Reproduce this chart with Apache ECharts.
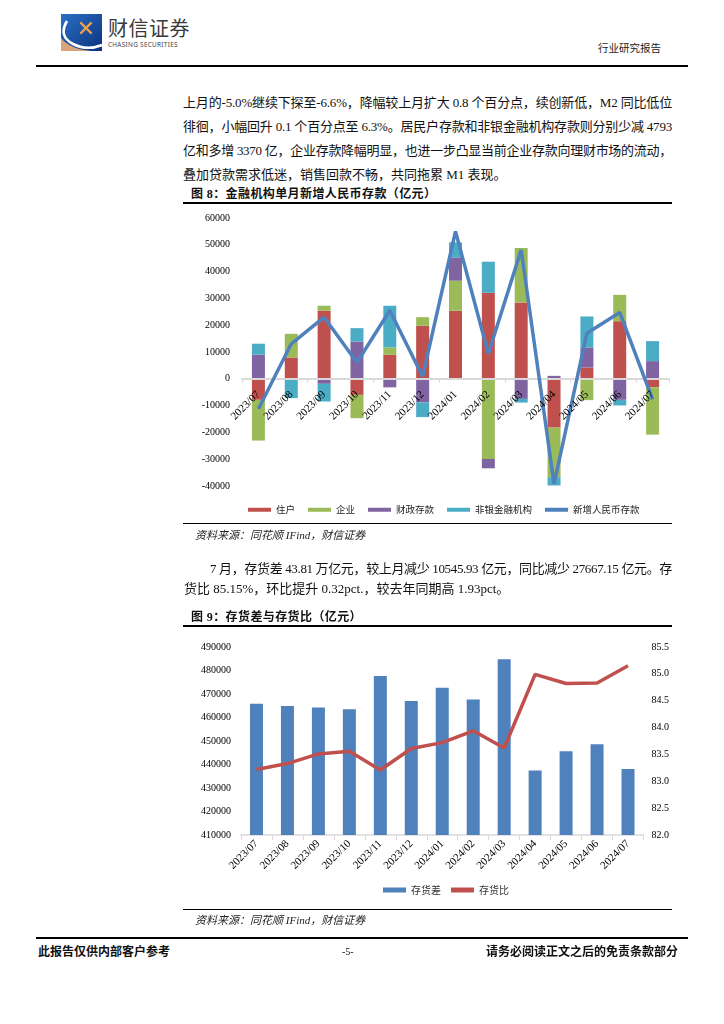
<!DOCTYPE html>
<html>
<head>
<meta charset="utf-8">
<script src="https://cdn.jsdelivr.net/npm/echarts@6/dist/echarts.min.js"></script>
<style>
  html, body { margin:0; padding:0; background:#fff; }
  body { width:724px; height:1024px; position:relative; overflow:hidden;
         font-family:"Liberation Serif","Noto Sans CJK SC",serif; color:#111; }
  .abs { position:absolute; white-space:nowrap; }
  .rule { position:absolute; background:#000; }
  .jline { position:absolute; font-size:13px; line-height:18px; white-space:nowrap; }
  .title { position:absolute; font-size:12px; font-weight:bold; line-height:16px; white-space:nowrap; letter-spacing:0.4px; }
  .src { position:absolute; font-size:11px; font-style:italic; line-height:14px; white-space:nowrap; color:#222; }
</style>
</head>
<body>
<!-- header -->
<svg class="abs" style="left:61px;top:14px" width="41" height="37" viewBox="0 0 41 37">
  <defs>
    <linearGradient id="lg" x1="0" y1="0" x2="1" y2="1">
      <stop offset="0" stop-color="#2d6fc4"/>
      <stop offset="1" stop-color="#0a347f"/>
    </linearGradient>
  </defs>
  <rect width="41" height="37" fill="url(#lg)"/>
  <path d="M0,24 Q9,35 30,37 L0,37 Z" fill="#d9a47a"/>
  <path d="M6,7 Q-3,22 12,30 Q26,37 41,31" stroke="#fff" stroke-width="2.6" fill="none"/>
  <path d="M20,9 L30,19 M30,9 L20,19" stroke="#f2a04a" stroke-width="2.4" stroke-linecap="round"/>
</svg>
<div class="abs" style="left:108px;top:16px;font-family:'Noto Sans CJK SC';font-size:20px;line-height:24px;color:#3a3a3a;letter-spacing:0.5px;">财信证券</div>
<div class="abs" style="left:108px;top:41px;font-family:'Noto Sans';font-size:6.4px;line-height:8px;color:#444;letter-spacing:0.3px;">CHASING SECURITIES</div>
<div class="abs" style="left:598px;top:41px;font-family:'Noto Sans CJK SC';font-size:10.5px;line-height:14px;color:#222;">行业研究报告</div>
<div class="rule" style="left:36px;top:65px;width:652px;height:1.5px;"></div>

<!-- paragraph 1 -->
<div class="jline fit" data-w="489" style="left:183px;top:94px;">上月的-5.0%继续下探至-6.6%，降幅较上月扩大 0.8 个百分点，续创新低，M2 同比低位</div>
<div class="jline fit" data-w="489" style="left:183px;top:118px;">徘徊，小幅回升 0.1 个百分点至 6.3%。居民户存款和非银金融机构存款则分别少减 4793</div>
<div class="jline fit" data-w="489" style="left:183px;top:142px;">亿和多增 3370 亿，企业存款降幅明显，也进一步凸显当前企业存款向理财市场的流动，</div>
<div class="jline" style="left:183px;top:166px;">叠加贷款需求低迷，销售回款不畅，共同拖累 M1 表现。</div>

<div class="title" style="left:191px;top:186px;">图 8：金融机构单月新增人民币存款（亿元）</div>
<div class="rule" style="left:183px;top:202px;width:489px;height:1.5px;"></div>
<div id="c1" style="position:absolute;left:183px;top:204px;width:489px;height:320px;"></div>
<div class="rule" style="left:183px;top:523px;width:489px;height:1.2px;"></div>
<div class="src" style="left:195px;top:528px;">资料来源：同花顺 IFind，财信证券</div>

<!-- paragraph 2 -->
<div class="jline fit" data-w="462" style="left:210px;top:560px;">7 月，存货差 43.81 万亿元，较上月减少 10545.93 亿元，同比减少 27667.15 亿元。存</div>
<div class="jline" style="left:184px;top:580px;">货比 85.15%，环比提升 0.32pct.，较去年同期高 1.93pct。</div>

<div class="title" style="left:191px;top:609px;">图 9：存货差与存货比（亿元）</div>
<div class="rule" style="left:183px;top:625px;width:489px;height:1.5px;"></div>
<div id="c2" style="position:absolute;left:183px;top:627px;width:489px;height:283px;"></div>
<div class="rule" style="left:183px;top:909px;width:489px;height:1.2px;"></div>
<div class="src" style="left:195px;top:913px;">资料来源：同花顺 IFind，财信证券</div>

<!-- footer -->
<div class="rule" style="left:36px;top:937px;width:652px;height:1.5px;"></div>
<div class="abs" style="left:38px;top:944px;font-size:12px;font-weight:bold;line-height:16px;">此报告仅供内部客户参考</div>
<div class="abs" style="left:342px;top:945px;font-size:10px;line-height:14px;">-5-</div>
<div class="abs" style="left:486px;top:944px;font-size:12px;font-weight:bold;line-height:16px;">请务必阅读正文之后的免责条款部分</div>

<script>
// ---------- Chart 1 data: 金融机构单月新增人民币存款（亿元） ----------
var months = ['2023/07','2023/08','2023/09','2023/10','2023/11','2023/12','2024/01','2024/02','2024/03','2024/04','2024/05','2024/06','2024/07'];
var household  = [-7840, 7960, 25400, -6000, 8960, 19800, 25400, 32100, 28500, -18200, 4230, 21500, -3130];
var enterprise = [-15200, 8830, 1870, -8700, 2740, 3200, 11200, -29900, 20300, -18500, -7960, 9830, -17700];
var fiscal     = [9000, 0, -1870, 13900, -3200, -8800, 8700, -3500, -7500, 1100, 7460, -7840, 6600];
var nonbank    = [4100, -7200, -6600, 5000, 15550, -5500, 5600, 11600, -1370, -3100, 11570, -2100, 7460];
var totalNew   = [-11300, 13060, 23000, 6100, 25500, 870, 55000, 9330, 48100, -39200, 17000, 24760, -7700];
var yTicks1 = {min: -40000, max: 60000, interval: 10000};

// ---------- Chart 2 data: 存货差与存货比 ----------
var gap   = [465800, 464900, 464300, 463500, 477700, 467000, 472700, 467700, 484800, 437500, 445600, 448600, 438100];
var ratio = [83.22, 83.33, 83.51, 83.56, 83.21, 83.61, 83.72, 83.94, 83.62, 84.99, 84.82, 84.83, 85.15];
var yTicksL = {min: 410000, max: 490000, interval: 10000};
var yTicksR = {min: 82.0, max: 85.5, interval: 0.5};

// justify lines
document.querySelectorAll('.fit').forEach(function(el){
  var target = +el.getAttribute('data-w');
  var nat = el.getBoundingClientRect().width;
  var n = el.textContent.length;
  var ls = (target - nat) / (n - 1);
  el.style.letterSpacing = ls + 'px';
  var w2 = el.getBoundingClientRect().width;
  el.style.letterSpacing = (ls + (target - w2) / n) + 'px';
});

var serif = 'Liberation Serif';
var cjk = 'Noto Sans CJK SC';
function plain(v) { return String(v); }

var grid1 = { left: 59, right: 3, top: 14, bottom: 38 };
var plotH1 = 320 - grid1.top - grid1.bottom;
var zeroFromBottom = plotH1 * (0 - yTicks1.min) / (yTicks1.max - yTicks1.min);

var c1 = echarts.init(document.getElementById('c1'));
function barS(name, data, color) {
  return { name: name, type: 'bar', stack: 'dep', data: data, barWidth: 13,
           itemStyle: { color: color }, z: 2 };
}
c1.setOption({
  animation: false,
  grid: grid1,
  legend: {
    left: 60, top: 296, itemWidth: 23, itemHeight: 4, itemGap: 13,
    textStyle: { fontFamily: cjk, fontSize: 9.5, color: '#222' },
    data: [
      { name: '住户', icon: 'rect' },
      { name: '企业', icon: 'rect' },
      { name: '财政存款', icon: 'rect' },
      { name: '非银金融机构', icon: 'rect' },
      { name: '新增人民币存款', icon: 'rect' }
    ]
  },
  xAxis: [
    { type: 'category', data: months, z: 5,
      axisLine: { onZero: true, lineStyle: { color: '#d9d9d9', width: 2 } },
      axisTick: { show: true, length: 4, lineStyle: { color: '#d9d9d9' } },
      axisLabel: { show: false } },
    { type: 'category', data: months, position: 'bottom', z: 20,
      axisLine: { show: false, onZero: false }, axisTick: { show: false },
      axisLabel: { rotate: 45, interval: 0, margin: 14 - zeroFromBottom,
                   fontFamily: serif, fontSize: 11, color: '#000' } }
  ],
  yAxis: {
    type: 'value', min: yTicks1.min, max: yTicks1.max, interval: yTicks1.interval,
    axisLine: { show: false }, axisTick: { show: false }, splitLine: { show: false },
    axisLabel: { margin: 12, fontFamily: serif, fontSize: 10, color: '#000', formatter: plain }
  },
  series: [
    barS('住户', household, '#C0504D'),
    barS('企业', enterprise, '#9BBB59'),
    barS('财政存款', fiscal, '#8064A2'),
    barS('非银金融机构', nonbank, '#4BACC6'),
    { name: '新增人民币存款', type: 'line', data: totalNew, showSymbol: false, symbol: 'none',
      lineStyle: { color: '#4F81BD', width: 3.5 }, itemStyle: { color: '#4F81BD' }, z: 10 }
  ]
});

var c2 = echarts.init(document.getElementById('c2'));
c2.setOption({
  animation: false,
  grid: { left: 58, right: 25, top: 20, bottom: 75 },
  legend: {
    left: 195, top: 253, itemWidth: 23, itemHeight: 5, itemGap: 10,
    textStyle: { fontFamily: cjk, fontSize: 10, color: '#333' },
    data: [ { name: '存货差', icon: 'rect' }, { name: '存货比', icon: 'rect' } ]
  },
  xAxis: {
    type: 'category', data: months,
    axisLine: { lineStyle: { color: '#d9d9d9', width: 1.5 } },
    axisTick: { show: true, length: 5, lineStyle: { color: '#d9d9d9' } },
    axisLabel: { rotate: 45, interval: 0, margin: 7, fontFamily: serif, fontSize: 11, color: '#000' }
  },
  yAxis: [
    { type: 'value', min: yTicksL.min, max: yTicksL.max, interval: yTicksL.interval,
      axisLine: { show: false }, axisTick: { show: false }, splitLine: { show: false },
      axisLabel: { margin: 10, fontFamily: serif, fontSize: 10, color: '#000', formatter: plain } },
    { type: 'value', min: yTicksR.min, max: yTicksR.max, interval: yTicksR.interval, position: 'right',
      axisLine: { show: false }, axisTick: { show: false }, splitLine: { show: false },
      axisLabel: { margin: 8, fontFamily: serif, fontSize: 10, color: '#000',
                   formatter: function (v) { return v.toFixed(1); } } }
  ],
  series: [
    { name: '存货差', type: 'bar', data: gap, barWidth: 13, yAxisIndex: 0,
      itemStyle: { color: '#4F81BD' } },
    { name: '存货比', type: 'line', data: ratio, yAxisIndex: 1, showSymbol: false, symbol: 'none',
      lineStyle: { color: '#C0504D', width: 3.5 }, itemStyle: { color: '#C0504D' }, z: 10 }
  ]
});
</script>
</body>
</html>
